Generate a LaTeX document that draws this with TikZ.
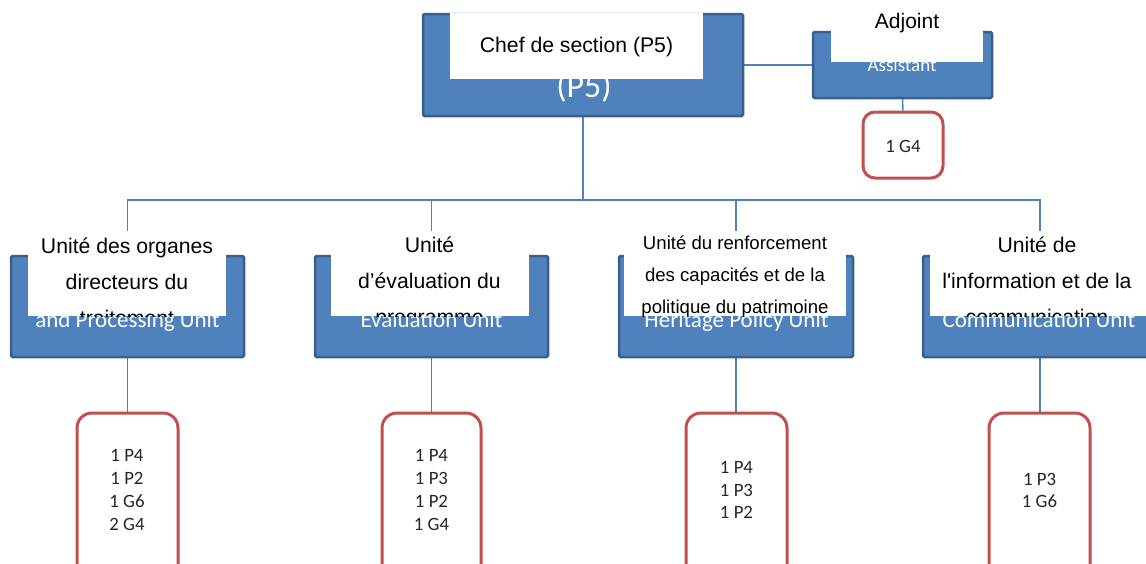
\documentclass[tikz,border=0pt]{standalone}
\usepackage{fontspec}
\setmainfont{Liberation Sans}
\newfontfamily\calfont{Carlito}
\definecolor{accblue}{HTML}{4F81BD}
\definecolor{bordblue}{HTML}{3A5F8C}
\definecolor{accred}{HTML}{C0504D}
\definecolor{txtgray}{HTML}{262626}
\pgfdeclarelayer{bg}
\pgfsetlayers{bg,main}
\tikzset{
  bluebox/.style={draw=bordblue, line width=2.5pt, fill=accblue, rounded corners=1.5pt, inner sep=0pt},
  whitebox/.style={fill=white, draw=none, inner sep=0pt},
  redbox/.style={draw=accred, line width=3pt, fill=white, rounded corners=15pt, inner sep=0pt},
  conn/.style={draw=accblue, line width=1.5pt},
  blk/.style={anchor=base, inner sep=0pt, text=black, font=\fontsize{21.2}{25}\selectfont},
  blks/.style={anchor=base, inner sep=0pt, text=black, font=\fontsize{18.6}{22}\selectfont},
  wht/.style={anchor=base, inner sep=0pt, text=white, font=\calfont\fontsize{23}{28}\selectfont},
  cnt/.style={align=center, inner sep=0pt, text=txtgray, font=\calfont\fontsize{18.8}{22.7}\selectfont},
}
\begin{document}
\begin{tikzpicture}[x=1pt, y=-1pt]
\useasboundingbox (0,0) rectangle (1146,563);
\coordinate (j0) at (583,200);

% ---------- boxes ----------
\node[bluebox, minimum width=320pt, minimum height=102pt] (b0) at (583,65) {};
\node[bluebox, minimum width=179pt, minimum height=66pt] (a0) at (902.5,65) {};
\node[bluebox, minimum width=233pt, minimum height=101pt] (b1) at (127.5,306.5) {};
\node[bluebox, minimum width=233pt, minimum height=101pt] (b2) at (431.5,306.5) {};
\node[bluebox, minimum width=234pt, minimum height=101pt] (b3) at (736,306.5) {};
\node[bluebox, minimum width=234pt, minimum height=101pt] (b4) at (1040,306.5) {};
\node[redbox, minimum width=80pt, minimum height=66pt, rounded corners=12pt] (r0) at (903,145) {};
\node[redbox, minimum width=101pt, minimum height=187pt] (r1) at (127.5,506.5) {};
\node[redbox, minimum width=99pt, minimum height=187pt] (r2) at (431.5,506.5) {};
\node[redbox, minimum width=101pt, minimum height=187pt] (r3) at (736.5,506.5) {};
\node[redbox, minimum width=101pt, minimum height=187pt] (r4) at (1039.5,506.5) {};

% ---------- connectors (behind boxes) ----------
\begin{pgfonlayer}{bg}
\draw[conn] (b0.east) -- (a0.west);
\draw[conn] (a0.south) -- (r0.north);
\draw[conn] (b0.south) -- (j0);
\draw[conn] (b1.north) |- (b4.north |- j0) -- (b4.north);
\draw[conn] (b2.north) -- (b2.north |- j0);
\draw[conn] (b3.north) -- (b3.north |- j0);
\draw[conn] (b1.south) -- (b1.south |- r1.north);
\draw[conn] (b2.south) -- (b2.south |- r2.north);
\draw[conn] (b3.south) -- (b3.south |- r3.north);
\draw[conn] (b4.south) -- (b4.south |- r4.north);
\end{pgfonlayer}

% ---------- white texts in blue boxes ----------
\node[wht, font=\calfont\fontsize{34}{40}\selectfont] (t0e) at (584,97) {(P5)};
\node[wht, font=\calfont\fontsize{19}{23}\selectfont] (tae) at (902,71) {Assistant};
\node[wht] (t1e) at (127.5,327) {and Processing Unit};
\node[wht] (t2e) at (431.5,327) {Evaluation Unit};
\node[wht] (t3e) at (736.5,327) {Heritage Policy Unit};
\node[wht] (t4e) at (1039,327) {Communication Unit};

% ---------- white overlay boxes with black text ----------
\node[whitebox, minimum width=253pt, minimum height=66pt] (w0) at (576.5,46) {};
\node[blk] (t0) at (576.5,52) {Chef de section (P5)};

\node[whitebox, minimum width=152pt, minimum height=72pt] (wa) at (907,26) {};
\node[blk, font=\fontsize{21}{25}\selectfont] (ta) at (907,28) {Adjoint};

\node[whitebox, minimum width=198pt, minimum height=85pt] (w1) at (127,273.5) {};
\node[whitebox, minimum width=198pt, minimum height=85pt] (w2) at (430,273.5) {};
\node[whitebox, minimum width=222pt, minimum height=85pt] (w3) at (735,273.5) {};
\node[whitebox, minimum width=216pt, minimum height=85pt] (w4) at (1038,273.5) {};

\begin{scope}
\clip (w1.south west) rectangle (w1.north east);
\node[blk] (t1a) at (127,253) {Unité des organes};
\node[blk] (t1b) at (127,289) {directeurs du};
\node[blk] (t1c) at (127,325) {traitement};
\end{scope}
\begin{scope}
\clip (w2.south west) rectangle (w2.north east);
\node[blk] (t2a) at (429.5,252) {Unité};
\node[blk] (t2b) at (429.5,288) {d’évaluation du};
\node[blk] (t2c) at (429.5,324) {programme};
\end{scope}
\begin{scope}
\clip (w3.south west) rectangle (w3.north east);
\node[blks] (t3a) at (735,249) {Unité du renforcement};
\node[blks] (t3b) at (735,281) {des capacités et de la};
\node[blks] (t3c) at (735,313) {politique du patrimoine};
\end{scope}
\begin{scope}
\clip (w4.south west) rectangle (w4.north east);
\node[blk] (t4a) at (1037,252) {Unité de};
\node[blk] (t4b) at (1037,288) {l\textquotesingle information et de la};
\node[blk] (t4c) at (1037,324) {communication};
\end{scope}

% ---------- red box contents ----------
\node[cnt] (c0) at (903,146) {1 G4};
\node[cnt] (c1) at (127,490) {1 P4\\1 P2\\1 G6\\2 G4};
\node[cnt] (c2) at (431.5,490) {1 P4\\1 P3\\1 P2\\1 G4};
\node[cnt] (c3) at (736.5,490) {1 P4\\1 P3\\1 P2};
\node[cnt] (c4) at (1039.5,490.5) {1 P3\\1 G6};
\end{tikzpicture}
\end{document}
